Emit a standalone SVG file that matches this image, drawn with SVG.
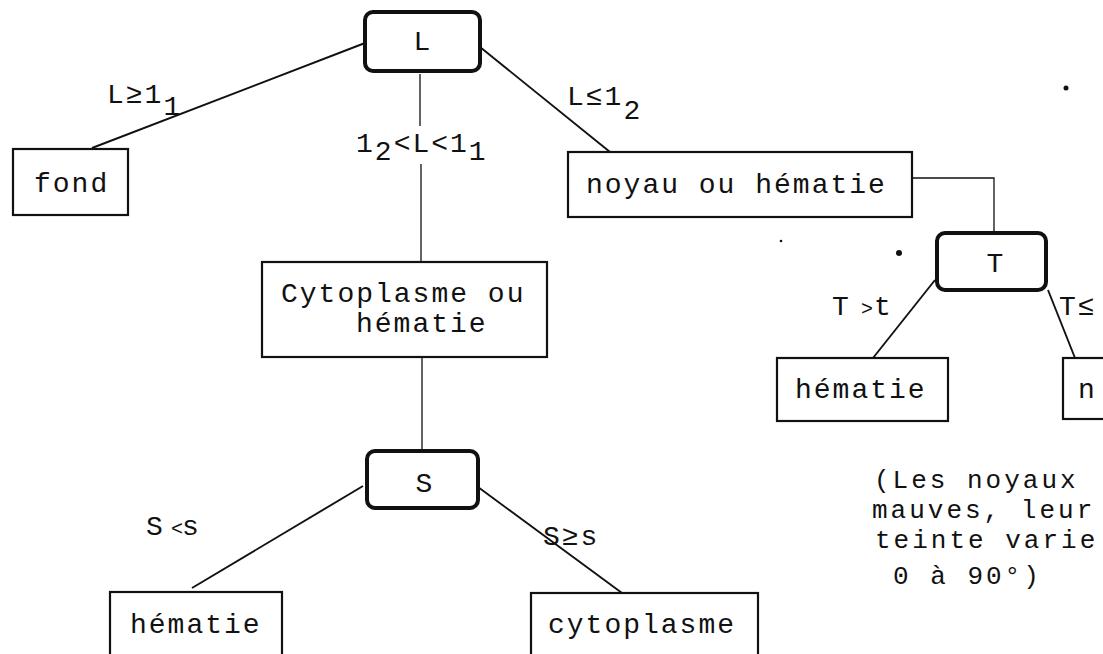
<svg xmlns="http://www.w3.org/2000/svg" width="1103" height="654" viewBox="0 0 1103 654">
<style>
text{font-family:"Liberation Mono","Courier New",monospace;font-size:28px;letter-spacing:2px;fill:#111}
.box{fill:#fff;stroke:#111;stroke-width:2.2}
.test{fill:#fff;stroke:#111;stroke-width:4}
.c{fill:none;stroke:#111;stroke-width:1.9}
.v{fill:none;stroke:#111;stroke-width:1.3}
.mid{text-anchor:middle;letter-spacing:0}
.sm{font-size:20px;letter-spacing:0}
.note{font-size:26px;letter-spacing:3px}
</style>
<rect width="1103" height="654" fill="#fff"/>
<g id="connectors">
<line class="c" x1="365" y1="43" x2="92" y2="148"/>
<line class="v" x1="420" y1="74" x2="420" y2="126"/>
<line class="v" x1="421" y1="164" x2="421" y2="262"/>
<line class="c" x1="480" y1="47" x2="610" y2="152"/>
<polyline class="v" points="912,178 994,178 994,233"/>
<line class="v" x1="422" y1="357" x2="422" y2="451"/>
<line class="c" x1="363" y1="486" x2="192" y2="588"/>
<line class="c" x1="478" y1="487" x2="622" y2="593"/>
<line class="c" x1="935" y1="280" x2="873" y2="358"/>
<line class="c" x1="1048" y1="290" x2="1075" y2="358"/>
</g>
<g id="node-L"><rect class="test" x="365" y="12" width="115" height="59" rx="8"/><text class="mid" x="422" y="50">L</text></g>
<g id="node-fond"><rect class="box" x="13" y="149" width="115" height="66"/><text x="34" y="192">fond</text></g>
<g id="node-cyto-hem"><rect class="box" x="262" y="262" width="285" height="95"/><text x="281" y="302">Cytoplasme ou</text><text x="356" y="332">hématie</text></g>
<g id="node-noyau-hem"><rect class="box" x="568" y="152" width="344" height="65"/><text x="586" y="193">noyau ou hématie</text></g>
<g id="node-T"><rect class="test" x="937" y="233" width="109" height="57" rx="8"/><text class="mid" x="995" y="272">T</text></g>
<g id="node-S"><rect class="test" x="367" y="451" width="111" height="57" rx="8"/><text class="mid" x="424" y="492">S</text></g>
<g id="node-hematie-left"><rect class="box" x="110" y="592" width="172" height="80"/><text x="130" y="633">hématie</text></g>
<g id="node-cytoplasme"><rect class="box" x="531" y="593" width="227" height="80"/><text x="548" y="633">cytoplasme</text></g>
<g id="node-hematie-right"><rect class="box" x="777" y="358" width="171" height="63"/><text x="795" y="398">hématie</text></g>
<g id="node-noyau"><rect class="box" x="1063" y="358" width="60" height="61"/><text x="1078" y="398">n</text></g>
<g id="labels">
<text x="107" y="103">L≥1<tspan dy="12">1</tspan></text>
<text x="356" y="152">1<tspan dy="8">2</tspan><tspan dy="-8">&lt;L&lt;1</tspan><tspan dy="8">1</tspan></text>
<text x="567" y="105">L≤1<tspan dy="14">2</tspan></text>
<text x="832" y="315">T<tspan class="sm" x="861">&gt;</tspan><tspan x="874">t</tspan></text>
<text x="1059" y="315">T≤</text>
<text x="146" y="535">S<tspan class="sm" x="171">&lt;</tspan><tspan x="182">s</tspan></text>
<text x="543" y="545">S≥s</text>
</g>
<g id="note">
<text class="note" x="874" y="488">(Les noyaux</text>
<text class="note" x="872" y="518">mauves, leur</text>
<text class="note" x="875" y="548">teinte varie</text>
<text class="note" x="893" y="584">0 à 90°)</text>
</g>
<g id="specks" fill="#111">
<circle cx="1066" cy="88" r="2.5"/>
<circle cx="899" cy="253" r="3"/>
<circle cx="781" cy="241" r="1.3"/>
</g>
</svg>
